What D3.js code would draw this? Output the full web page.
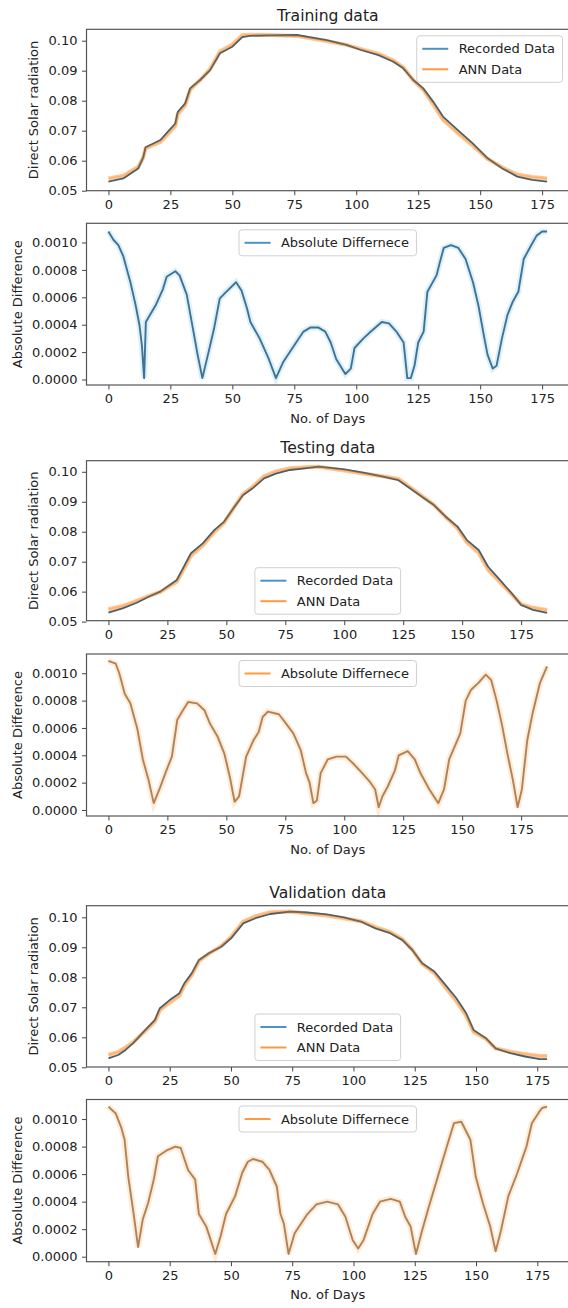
<!DOCTYPE html>
<html>
<head>
<meta charset="utf-8">
<script src="https://cdn.jsdelivr.net/npm/d3@7/dist/d3.min.js"></script>
<style>
  body { margin: 0; background: #fff; }
  svg { display: block; }
  text { font-family: "DejaVu Sans", sans-serif; fill: #222; }
</style>
</head>
<body>
<div id="chart"></div>
<script>
// ---- data ----
const xTicks = [0, 25, 50, 75, 100, 125, 150, 175];
const radTicks = [0.05, 0.06, 0.07, 0.08, 0.09, 0.10];
const diffTicks = [0, 0.0002, 0.0004, 0.0006, 0.0008, 0.0010];

const trainDays = [0, 6, 12, 14, 15, 21, 24, 27, 28, 31, 33, 37, 41, 45, 50, 54, 57, 65, 76, 88, 96, 102, 109, 115, 119, 123, 127, 131, 135, 141, 147, 153, 159, 165, 171, 177];
const trainRecorded = [0.0530, 0.0541, 0.0574, 0.0610, 0.0645, 0.0669, 0.0697, 0.0724, 0.0763, 0.0791, 0.0841, 0.0869, 0.0902, 0.0958, 0.0980, 0.1012, 0.1016, 0.1018, 0.1019, 0.1002, 0.0986, 0.0969, 0.0952, 0.0930, 0.0908, 0.0869, 0.0841, 0.0797, 0.0747, 0.0702, 0.0658, 0.0608, 0.0574, 0.0547, 0.0536, 0.0530];
const trainANN = [0.0541, 0.0550, 0.0579, 0.0610, 0.0641, 0.0663, 0.0689, 0.0716, 0.0755, 0.0785, 0.0837, 0.0869, 0.0905, 0.0964, 0.0987, 0.1018, 0.1020, 0.1019, 0.1016, 0.0999, 0.0986, 0.0972, 0.0956, 0.0934, 0.0911, 0.0868, 0.0837, 0.0789, 0.0737, 0.0692, 0.0651, 0.0606, 0.0577, 0.0554, 0.0546, 0.0541];
const trainDiff = [[0, 0.00108], [2, 0.00102], [4, 0.00098], [6, 0.0009], [9, 0.0007], [11, 0.00054], [12.5, 0.0004], [13.5, 0.00025], [14.4, 0.00001], [15.1, 0.00042], [19, 0.00054], [22, 0.00066], [23.5, 0.00075], [27, 0.00079], [28.7, 0.00076], [31.6, 0.00062], [34.6, 0.00032], [36, 0.00018], [37.9, 0.00001], [40.4, 0.0002], [42.6, 0.00037], [44.9, 0.00059], [47, 0.00063], [51.5, 0.00071], [53.7, 0.00065], [55.9, 0.00052], [57.3, 0.00042], [61, 0.0003], [64.7, 0.00015], [67.6, 0.00001], [70.6, 0.00013], [75, 0.00025], [78.7, 0.00035], [81.6, 0.00038], [84.6, 0.00038], [87.5, 0.00035], [89.7, 0.00027], [91.9, 0.00015], [95.6, 0.00004], [97.8, 0.00008], [99.3, 0.00023], [102.9, 0.0003], [105.9, 0.00035], [110.3, 0.00042], [113.2, 0.00041], [116.2, 0.00035], [119.1, 0.00027], [120.6, 0.00001], [122, 0.00001], [123.5, 0.0001], [125, 0.00027], [127.2, 0.00035], [128.7, 0.00064], [132.4, 0.00076], [133.8, 0.00086], [135.3, 0.00096], [138.2, 0.00098], [141.2, 0.00096], [144.1, 0.00088], [147.1, 0.00071], [149.3, 0.00054], [151.5, 0.00032], [153, 0.00018], [155.1, 0.00008], [156.6, 0.0001], [158.8, 0.0003], [161, 0.00047], [163.2, 0.00057], [165.4, 0.00064], [167.6, 0.00088], [170.6, 0.00098], [172.8, 0.00105], [175, 0.00108], [177, 0.00108]];

const testDays = [0, 6, 12, 17, 22, 26, 29, 32, 35, 40, 45, 49, 53, 57, 61, 66, 71, 77, 85, 89, 100, 108, 117, 123, 128, 134, 138, 143, 148, 152, 157, 161, 166, 171, 175, 180, 186];
const testRecorded = [0.0530, 0.0544, 0.0563, 0.0583, 0.0600, 0.0622, 0.0639, 0.0683, 0.0728, 0.0761, 0.0806, 0.0833, 0.0878, 0.0922, 0.0944, 0.0978, 0.0994, 0.1006, 0.1013, 0.1017, 0.1008, 0.0997, 0.0983, 0.0972, 0.0944, 0.0911, 0.0889, 0.0850, 0.0817, 0.0772, 0.0739, 0.0683, 0.0639, 0.0594, 0.0556, 0.0539, 0.0529];
const testANN = [0.0541, 0.0552, 0.0569, 0.0585, 0.0599, 0.0619, 0.0633, 0.0676, 0.0720, 0.0754, 0.0800, 0.0829, 0.0878, 0.0925, 0.0949, 0.0985, 0.1001, 0.1012, 0.1016, 0.1017, 0.1004, 0.0994, 0.0984, 0.0976, 0.0948, 0.0913, 0.0890, 0.0849, 0.0812, 0.0764, 0.0730, 0.0673, 0.0632, 0.0591, 0.0558, 0.0546, 0.0539];
const testDiff = [[0, 0.00109], [3.1, 0.00107], [4.6, 0.001], [6.9, 0.00085], [9.3, 0.00078], [12.3, 0.00059], [14.6, 0.00037], [17, 0.00022], [19.2, 0.00005], [21.6, 0.00015], [24.6, 0.00029], [26.9, 0.00039], [29.2, 0.00066], [31.6, 0.00073], [33.8, 0.00079], [37.6, 0.00078], [40.7, 0.00073], [43.1, 0.00063], [46.2, 0.00054], [49.2, 0.00041], [51.5, 0.00024], [53.5, 0.00006], [55.4, 0.0001], [58.4, 0.00039], [61.5, 0.00051], [63.7, 0.00057], [65.4, 0.00068], [67.6, 0.00072], [72.3, 0.0007], [75.4, 0.00063], [78.4, 0.00056], [81.5, 0.00044], [83.8, 0.00027], [85.3, 0.0002], [86.9, 0.00005], [88.4, 0.00007], [90, 0.00027], [93, 0.00037], [96.8, 0.00039], [100.7, 0.00039], [103.8, 0.00034], [107.6, 0.00027], [110.7, 0.00021], [113.1, 0.00015], [114.6, 0.00002], [116.2, 0.0001], [118.4, 0.00017], [121.5, 0.00029], [123.1, 0.0004], [126.9, 0.00043], [129.9, 0.00037], [132.3, 0.00027], [136.1, 0.00015], [139.9, 0.00005], [142.3, 0.00015], [144.5, 0.00037], [149.2, 0.00056], [151.5, 0.0008], [153.8, 0.00088], [156.9, 0.00093], [160, 0.00099], [162.3, 0.00095], [164.6, 0.0008], [166.8, 0.00063], [169.2, 0.00041], [171.5, 0.00022], [173.5, 0.00002], [175.3, 0.00015], [177.6, 0.00051], [179.9, 0.00071], [183, 0.00093], [186, 0.00105]];

const valDays = [0, 4, 7, 10, 15, 19, 21, 25, 29, 31, 34, 37, 41, 46, 50, 55, 60, 66, 74, 81, 89, 96, 103, 109, 115, 120, 124, 128, 133, 137, 142, 146, 149, 154, 158, 164, 170, 176, 179];
const valRecorded = [0.0530, 0.0541, 0.0558, 0.0580, 0.0624, 0.0658, 0.0697, 0.0724, 0.0747, 0.0780, 0.0813, 0.0858, 0.0880, 0.0902, 0.0930, 0.0980, 0.0997, 0.1011, 0.1019, 0.1016, 0.1010, 0.1000, 0.0986, 0.0963, 0.0947, 0.0924, 0.0891, 0.0847, 0.0819, 0.0780, 0.0730, 0.0680, 0.0624, 0.0597, 0.0563, 0.0547, 0.0536, 0.0527, 0.0527];
const valANN = [0.0541, 0.0551, 0.0566, 0.0583, 0.0621, 0.0652, 0.0690, 0.0716, 0.0739, 0.0773, 0.0807, 0.0855, 0.0879, 0.0904, 0.0934, 0.0986, 0.1004, 0.1017, 0.1019, 0.1013, 0.1006, 0.0997, 0.0987, 0.0967, 0.0951, 0.0927, 0.0892, 0.0845, 0.0814, 0.0772, 0.0720, 0.0671, 0.0618, 0.0595, 0.0563, 0.0552, 0.0544, 0.0538, 0.0538];
const valDiff = [[0, 0.00109], [3, 0.00104], [5.2, 0.00094], [6.6, 0.00085], [8.1, 0.00058], [10.3, 0.00031], [12.1, 0.00007], [14, 0.00027], [16.2, 0.00039], [18.5, 0.00056], [20.2, 0.00073], [23.6, 0.00077], [27.3, 0.0008], [29.5, 0.00079], [32.5, 0.00063], [35.4, 0.00056], [36.9, 0.00031], [39.9, 0.00022], [43.6, 0.00002], [45.8, 0.00015], [48, 0.00031], [51.7, 0.00044], [54.6, 0.00061], [56.9, 0.00069], [59, 0.00071], [62.8, 0.00069], [65.7, 0.00063], [68.7, 0.00051], [70.2, 0.00031], [71.6, 0.00024], [73.5, 0.00002], [76, 0.00017], [81.2, 0.00031], [84.9, 0.00038], [89.3, 0.0004], [93.7, 0.00038], [96.7, 0.00029], [99.7, 0.00012], [101.9, 0.00006], [104.1, 0.00012], [107.8, 0.00031], [110.8, 0.0004], [115.2, 0.00042], [118.9, 0.0004], [121.1, 0.00029], [123.3, 0.00022], [125.5, 0.00002], [127.7, 0.00017], [130.7, 0.00036], [134.4, 0.00058], [138.1, 0.0008], [141, 0.00097], [144, 0.00098], [147.7, 0.00085], [149.9, 0.00058], [152.8, 0.00039], [155.8, 0.00022], [158, 0.00004], [160.2, 0.00019], [163.2, 0.00044], [166.9, 0.00061], [170.6, 0.0008], [172.8, 0.00097], [175.7, 0.00105], [177, 0.00108], [179, 0.00109]];

// ---- layout ----
const W = 568, H = 1308;
const left = 86.5, right = 569;
const FS = 13;
const blue = '#1f77b4', orange = '#ff7f0e';

const svg = d3.select('#chart').append('svg')
  .attr('width', W).attr('height', H);

const panels = [
  { kind: 'rad', title: 'Training data', top: 29.3, bottom: 190.7, yDom: [0.05, 0.1038], xDom: [-8.85, 185.85],
    rec: d3.zip(trainDays, trainRecorded), ann: d3.zip(trainDays, trainANN), legendLoc: 'upper right' },
  { kind: 'diff', top: 223.3, bottom: 385, yDom: [-0.00004, 0.00114], xDom: [-8.85, 185.85],
    diff: trainDiff, color: blue, core: '#3f7396', halo: '#d5ecf7', legendLoc: 'upper center' },
  { kind: 'rad', title: 'Testing data', top: 460.7, bottom: 620.7, yDom: [0.0503, 0.1037], xDom: [-9.3, 195.3],
    rec: d3.zip(testDays, testRecorded), ann: d3.zip(testDays, testANN), legendLoc: 'lower center' },
  { kind: 'diff', top: 654, bottom: 816, yDom: [-0.000044, 0.001141], xDom: [-9.3, 195.3],
    diff: testDiff, color: orange, core: '#b0825a', halo: '#fde6cc', legendLoc: 'upper center' },
  { kind: 'rad', title: 'Validation data', top: 905.7, bottom: 1067, yDom: [0.0501, 0.10387], xDom: [-8.95, 187.95],
    rec: d3.zip(valDays, valRecorded), ann: d3.zip(valDays, valANN), legendLoc: 'lower center' },
  { kind: 'diff', top: 1099.5, bottom: 1261.7, yDom: [-0.0000363, 0.001142], xDom: [-8.95, 187.95],
    diff: valDiff, color: orange, core: '#b0825a', halo: '#fde6cc', legendLoc: 'upper center' }
];

function drawLegend(g, items, loc, p) {
  const pad = 5.5, hl = 26, htp = 10.4, rowH = 15, sp = 5.5, axPad = 6.5;
  const tmp = g.append('text').style('font-size', FS + 'px');
  const widths = items.map(it => { tmp.text(it.label); return tmp.node().getComputedTextLength(); });
  tmp.remove();
  const w = pad * 2 + hl + htp + d3.max(widths) + 2;
  const h = pad * 2 + items.length * rowH + (items.length - 1) * sp;
  let lx, ly;
  if (loc === 'upper right') { lx = right - axPad - w; ly = p.top + axPad; }
  else if (loc === 'upper center') { lx = (left + right) / 2 - w / 2; ly = p.top + axPad; }
  else { lx = (left + right) / 2 - w / 2; ly = p.bottom - axPad - h; }

  const lg = g.append('g').attr('transform', `translate(${lx},${ly})`);
  lg.append('rect')
    .attr('width', w).attr('height', h).attr('rx', 3)
    .attr('fill', '#fff').attr('fill-opacity', 0.85)
    .attr('stroke', '#d0d0d0').attr('stroke-width', 1);
  items.forEach((it, i) => {
    const cy = pad + i * (rowH + sp) + rowH / 2;
    lg.append('line')
      .attr('x1', pad).attr('x2', pad + hl).attr('y1', cy).attr('y2', cy)
      .attr('stroke', it.color).attr('stroke-width', 2).attr('stroke-opacity', 0.8);
    lg.append('text')
      .attr('x', pad + hl + htp).attr('y', cy)
      .attr('dy', '0.35em')
      .style('font-size', FS + 'px')
      .text(it.label);
  });
}

panels.forEach(p => {
  const g = svg.append('g');
  const x = d3.scaleLinear().domain(p.xDom).range([left, right]);
  const y = d3.scaleLinear().domain(p.yDom).range([p.bottom, p.top]);

  // axes
  const xAxis = g.append('g')
    .attr('transform', `translate(0,${p.bottom})`)
    .call(d3.axisBottom(x).tickValues(xTicks).tickSize(4.5).tickPadding(4.5).tickFormat(d3.format('d')));
  const yAxis = g.append('g')
    .attr('transform', `translate(${left},0)`)
    .call(d3.axisLeft(y)
      .tickValues(p.kind === 'rad' ? radTicks : diffTicks)
      .tickSize(4.5).tickPadding(4.5)
      .tickFormat(d3.format(p.kind === 'rad' ? '.2f' : '.4f')));
  [xAxis, yAxis].forEach(a => {
    a.select('.domain').remove();
    a.selectAll('.tick line').attr('stroke', '#444').attr('stroke-width', 1);
    a.selectAll('.tick text').style('font-size', FS + 'px').attr('fill', '#222');
  });

  // lines
  const line = d3.line().x(d => x(d[0])).y(d => y(d[1]));
  if (p.kind === 'rad') {
    g.append('path').datum(p.ann)
      .attr('d', line).attr('fill', 'none')
      .attr('stroke', orange).attr('stroke-opacity', 0.45).attr('stroke-width', 4);
    g.append('path').datum(p.rec)
      .attr('d', line).attr('fill', 'none')
      .attr('stroke', '#4a6068').attr('stroke-width', 1.8).attr('stroke-linejoin', 'round');
    g.append('path').datum(p.ann)
      .attr('d', line).attr('fill', 'none')
      .attr('stroke', orange).attr('stroke-opacity', 0.25).attr('stroke-width', 1.5);
  } else {
    g.append('path').datum(p.diff)
      .attr('d', line).attr('fill', 'none')
      .attr('stroke', p.halo).attr('stroke-width', 6).attr('stroke-opacity', 0.8);
    g.append('path').datum(p.diff)
      .attr('d', line).attr('fill', 'none')
      .attr('stroke', p.core).attr('stroke-width', 1.9).attr('stroke-linejoin', 'round');
  }

  // frame
  g.append('rect')
    .attr('x', left).attr('y', p.top)
    .attr('width', right - left).attr('height', p.bottom - p.top)
    .attr('fill', 'none').attr('stroke', '#555').attr('stroke-width', 1.2);

  // legend
  const items = p.kind === 'rad'
    ? [{ label: 'Recorded Data', color: blue }, { label: 'ANN Data', color: orange }]
    : [{ label: 'Absolute Differnece', color: p.color }];
  drawLegend(g, items, p.legendLoc, p);

  // labels
  const midY = (p.top + p.bottom) / 2;
  g.append('text')
    .attr('transform', `translate(${p.kind === 'rad' ? 33 : 17},${midY}) rotate(-90)`)
    .attr('text-anchor', 'middle').attr('dy', '0.35em')
    .style('font-size', FS + 'px')
    .text(p.kind === 'rad' ? 'Direct Solar radiation' : 'Absolute Difference');

  if (p.title) {
    g.append('text')
      .attr('x', (left + right) / 2).attr('y', p.top - 8)
      .attr('text-anchor', 'middle')
      .style('font-size', '15.6px')
      .text(p.title);
  }
  if (p.kind === 'diff') {
    g.append('text')
      .attr('x', (left + right) / 2).attr('y', p.bottom + 33)
      .attr('text-anchor', 'middle').attr('dy', '0.35em')
      .style('font-size', FS + 'px')
      .text('No. of Days');
  }
});
</script>
</body>
</html>
